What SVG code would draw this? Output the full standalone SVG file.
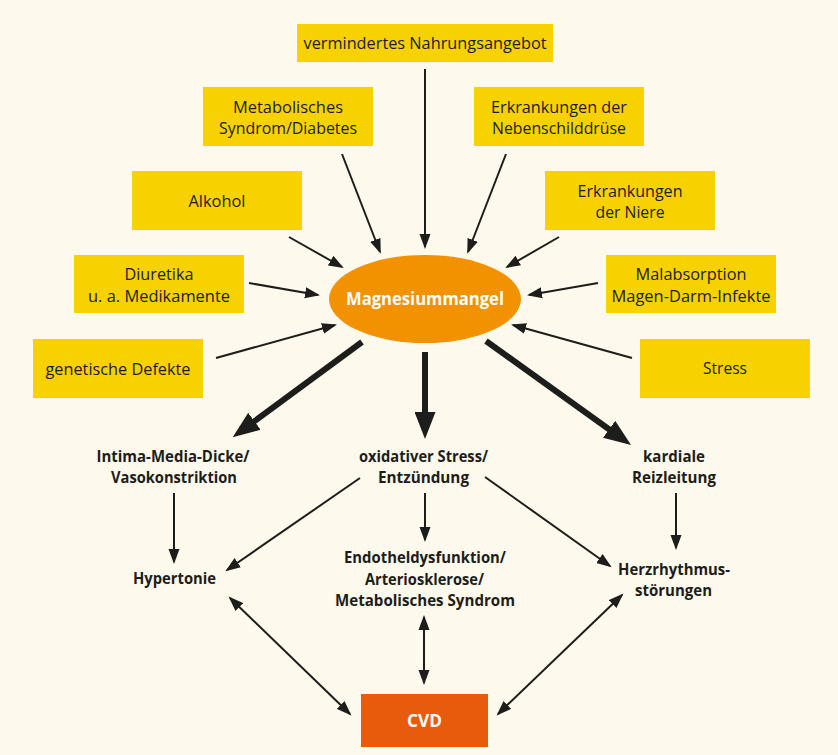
<svg xmlns="http://www.w3.org/2000/svg" width="838" height="755" viewBox="0 0 838 755">
<defs>
<style>
.box{fill:#F7D100}
.t{font-family:"Open Sans","Liberation Sans",sans-serif;font-size:16.5px;fill:#1d1d1b;text-anchor:middle}
.b{font-family:"Open Sans","Liberation Sans",sans-serif;font-size:16.5px;font-weight:bold;fill:#1d1d1b;text-anchor:middle}
.w{font-family:"Open Sans","Liberation Sans",sans-serif;font-size:17.5px;font-weight:bold;fill:#ffffff;text-anchor:middle}
.ln{stroke:#1d1d1b;stroke-width:2;fill:none}
.thick{stroke:#1d1d1b;stroke-width:6;fill:none}
</style>
<marker id="ah" markerUnits="userSpaceOnUse" markerWidth="16" markerHeight="12" refX="13" refY="5.5" orient="auto-start-reverse" viewBox="0 0 16 11">
<path d="M0,0 L15,5.5 L0,11 z" fill="#1d1d1b"/>
</marker>
<marker id="big" markerUnits="userSpaceOnUse" markerWidth="28" markerHeight="21" refX="8" refY="10.5" orient="auto" viewBox="0 0 28 21">
<path d="M0,0 L27,10.5 L0,21 z" fill="#1d1d1b"/>
</marker>
</defs>
<rect x="0" y="0" width="838" height="755" fill="#FDF9EC"/>

<g id="connectors">
<line class="ln" x1="425" y1="69" x2="425" y2="247" marker-end="url(#ah)"/>
<line class="ln" x1="342" y1="154" x2="380" y2="252" marker-end="url(#ah)"/>
<line class="ln" x1="506" y1="154" x2="468" y2="252" marker-end="url(#ah)"/>
<line class="ln" x1="289" y1="237" x2="342" y2="267" marker-end="url(#ah)"/>
<line class="ln" x1="559" y1="237" x2="507" y2="267" marker-end="url(#ah)"/>
<line class="ln" x1="249" y1="283" x2="318" y2="295" marker-end="url(#ah)"/>
<line class="ln" x1="598" y1="283" x2="529" y2="295" marker-end="url(#ah)"/>
<line class="ln" x1="216" y1="358" x2="335" y2="325" marker-end="url(#ah)"/>
<line class="ln" x1="632" y1="358" x2="513" y2="325" marker-end="url(#ah)"/>

<line class="thick" x1="362" y1="342" x2="248" y2="426" marker-end="url(#big)"/>
<line class="thick" x1="425" y1="352" x2="425" y2="420" marker-end="url(#big)"/>
<line class="thick" x1="486" y1="341" x2="615.6" y2="434" marker-end="url(#big)"/>

<line class="ln" x1="174" y1="493" x2="174" y2="562" marker-end="url(#ah)"/>
<line class="ln" x1="360" y1="478" x2="227" y2="570" marker-end="url(#ah)"/>
<line class="ln" x1="425" y1="493" x2="425" y2="540" marker-end="url(#ah)"/>
<line class="ln" x1="485" y1="477" x2="610" y2="566" marker-end="url(#ah)"/>
<line class="ln" x1="676" y1="493" x2="676" y2="548" marker-end="url(#ah)"/>
<line class="ln" x1="230" y1="598" x2="350" y2="714" marker-start="url(#ah)" marker-end="url(#ah)"/>
<line class="ln" x1="424" y1="617" x2="424" y2="683" marker-start="url(#ah)" marker-end="url(#ah)"/>
<line class="ln" x1="622" y1="595" x2="498" y2="714" marker-start="url(#ah)" marker-end="url(#ah)"/>
</g>

<g id="n-nahrung"><rect class="box" x="297" y="24" width="256" height="38"/><text class="t" x="425" y="49" textLength="243" lengthAdjust="spacingAndGlyphs">vermindertes Nahrungsangebot</text></g>
<g id="n-metab"><rect class="box" x="203" y="87" width="170" height="59"/><text class="t" x="288" y="113" textLength="110" lengthAdjust="spacingAndGlyphs">Metabolisches</text><text class="t" x="288" y="134" textLength="138" lengthAdjust="spacingAndGlyphs">Syndrom/Diabetes</text></g>
<g id="n-alkohol"><rect class="box" x="132" y="171" width="170" height="59"/><text class="t" x="217" y="207" textLength="57" lengthAdjust="spacingAndGlyphs">Alkohol</text></g>
<g id="n-nebenschild"><rect class="box" x="474" y="87" width="170" height="59"/><text class="t" x="559" y="113" textLength="136" lengthAdjust="spacingAndGlyphs">Erkrankungen der</text><text class="t" x="559" y="134" textLength="134" lengthAdjust="spacingAndGlyphs">Nebenschilddrüse</text></g>
<g id="n-niere"><rect class="box" x="545" y="171" width="170" height="59"/><text class="t" x="630" y="197" textLength="105" lengthAdjust="spacingAndGlyphs">Erkrankungen</text><text class="t" x="630" y="218" textLength="69" lengthAdjust="spacingAndGlyphs">der Niere</text></g>
<g id="n-diuretika"><rect class="box" x="74" y="255" width="170" height="58"/><text class="t" x="159" y="280" textLength="69" lengthAdjust="spacingAndGlyphs">Diuretika</text><text class="t" x="159" y="302" textLength="142" lengthAdjust="spacingAndGlyphs">u. a. Medikamente</text></g>
<g id="n-malabs"><rect class="box" x="606" y="255" width="170" height="58"/><text class="t" x="691" y="280" textLength="111" lengthAdjust="spacingAndGlyphs">Malabsorption</text><text class="t" x="691" y="302" textLength="159" lengthAdjust="spacingAndGlyphs">Magen-Darm-Infekte</text></g>
<g id="n-genetisch"><rect class="box" x="33" y="339" width="170" height="59"/><text class="t" x="118" y="375" textLength="145" lengthAdjust="spacingAndGlyphs">genetische Defekte</text></g>
<g id="n-stress"><rect class="box" x="640" y="339" width="170" height="59"/><text class="t" x="725" y="374" textLength="44" lengthAdjust="spacingAndGlyphs">Stress</text></g>

<g id="n-magnesium"><ellipse cx="425" cy="299" rx="96" ry="44" fill="#F39200"/><text class="w" x="425" y="305" textLength="158" lengthAdjust="spacingAndGlyphs">Magnesiummangel</text></g>

<g id="n-intima"><text class="b" x="173" y="462" textLength="153" lengthAdjust="spacingAndGlyphs">Intima-Media-Dicke/</text><text class="b" x="174" y="483" textLength="126" lengthAdjust="spacingAndGlyphs">Vasokonstriktion</text></g>
<g id="n-oxid"><text class="b" x="423.5" y="462" textLength="129" lengthAdjust="spacingAndGlyphs">oxidativer Stress/</text><text class="b" x="423.5" y="483" textLength="91" lengthAdjust="spacingAndGlyphs">Entzündung</text></g>
<g id="n-kardial"><text class="b" x="674" y="462" textLength="62" lengthAdjust="spacingAndGlyphs">kardiale</text><text class="b" x="674" y="483" textLength="84" lengthAdjust="spacingAndGlyphs">Reizleitung</text></g>
<g id="n-hypertonie"><text class="b" x="174.5" y="584" textLength="83" lengthAdjust="spacingAndGlyphs">Hypertonie</text></g>
<g id="n-endothel"><text class="b" x="425" y="563" textLength="162" lengthAdjust="spacingAndGlyphs">Endotheldysfunktion/</text><text class="b" x="424.5" y="585" textLength="119" lengthAdjust="spacingAndGlyphs">Arteriosklerose/</text><text class="b" x="425" y="606" textLength="180" lengthAdjust="spacingAndGlyphs">Metabolisches Syndrom</text></g>
<g id="n-herz"><text class="b" x="674" y="575" textLength="112" lengthAdjust="spacingAndGlyphs">Herzrhythmus-</text><text class="b" x="673.5" y="596" textLength="77" lengthAdjust="spacingAndGlyphs">störungen</text></g>
<g id="n-cvd"><rect x="361" y="694" width="127" height="53" fill="#E85B0C"/><text class="w" x="424.5" y="727" textLength="35" lengthAdjust="spacingAndGlyphs">CVD</text></g>
</svg>
